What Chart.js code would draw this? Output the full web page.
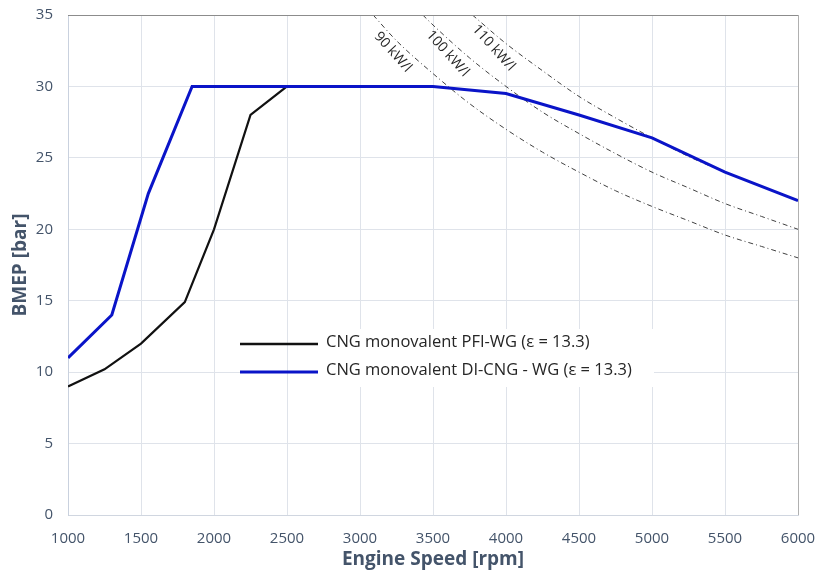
<!DOCTYPE html>
<html>
<head>
<meta charset="utf-8">
<script src="https://cdn.jsdelivr.net/npm/chart.js@4"></script>
<style>
  html,body{margin:0;padding:0;background:#fff;}
  #wrap{width:819px;height:578px;}
</style>
</head>
<body>
<div id="wrap"><canvas id="chart" width="819" height="578"></canvas></div>
<script>
/* ================= Data ================= */
const pfiSpeed = [1000, 1250, 1500, 1800, 2000, 2250, 2500, 3500];
const pfiBmep  = [9, 10.2, 12, 14.9, 20, 28, 30, 30];

const diSpeed = [1000, 1300, 1550, 1850, 3500, 4000, 4500, 5000, 5500, 6000];
const diBmep  = [11, 14, 22.5, 30, 30, 29.5, 28, 26.4, 24, 22];

// constant specific power lines
const p90Speed  = [3090, 3250, 3500, 3750, 4000, 4250, 4500, 4750, 5000, 5250, 5500, 5750, 6000];
const p90Bmep   = [35, 33.2, 30.9, 28.8, 27, 25.4, 24, 22.7, 21.6, 20.6, 19.6, 18.8, 18];
const p100Speed = [3430, 3500, 3750, 4000, 4250, 4500, 4750, 5000, 5250, 5500, 5750, 6000];
const p100Bmep  = [35, 34.3, 32, 30, 28.2, 26.7, 25.3, 24, 22.9, 21.8, 20.9, 20];
const p110Speed = [3770, 4000, 4250, 4500, 4750, 5000, 5250, 5500, 5750, 6000];
const p110Bmep  = [35, 33, 31.1, 29.3, 27.8, 26.4, 25.1, 24, 23, 22];

const powerLabels = [
  {text: '90 kW/l',  x: 3225, y: 32.4},
  {text: '100 kW/l', x: 3600, y: 32.3},
  {text: '110 kW/l', x: 3915, y: 32.7}
];

const legendNames = ['CNG monovalent PFI-WG (ε = 13.3)', 'CNG monovalent DI-CNG - WG (ε = 13.3)'];

const pts = (xs, ys) => xs.map((x, i) => ({x: x, y: ys[i]}));

/* ================= Plugins ================= */
const frame = {
  id: 'frame',
  afterDatasetsDraw(c) {
    const a = c.chartArea, g = c.ctx;
    g.save();
    g.lineWidth = 1;
    g.strokeStyle = '#8c8c8c';
    g.beginPath(); g.moveTo(a.left, a.top + 0.5); g.lineTo(a.right, a.top + 0.5); g.stroke();
    g.strokeStyle = '#b0b0b0';
    g.beginPath(); g.moveTo(a.right + 0.5, a.top); g.lineTo(a.right + 0.5, a.bottom); g.stroke();

    // power line labels
    const xs = c.scales.x, ys = c.scales.y;
    g.fillStyle = '#262626';
    g.font = '14px "Open Sans", sans-serif';
    g.textAlign = 'center';
    g.textBaseline = 'middle';
    powerLabels.forEach(l => {
      g.save();
      g.translate(xs.getPixelForValue(l.x), ys.getPixelForValue(l.y));
      g.rotate(48 * Math.PI / 180);
      g.fillText(l.text, 0, 0);
      g.restore();
    });

    // legend box
    g.fillStyle = '#fff';
    g.fillRect(298, 329, 356, 58);
    const ds = [c.data.datasets[0], c.data.datasets[1]];
    g.font = '16.5px "Open Sans", sans-serif';
    g.textAlign = 'left';
    ds.forEach((d, i) => {
      const yy = 344 + i * 28;
      g.strokeStyle = d.borderColor;
      g.lineWidth = i === 0 ? 2.5 : 3;
      g.beginPath(); g.moveTo(240, yy); g.lineTo(318, yy); g.stroke();
      g.fillStyle = '#262626';
      g.fillText(legendNames[i], 326, yy - 2);
    });
    g.restore();
  }
};

/* ================= Chart ================= */
const dashed = {
  borderColor: '#404040',
  borderWidth: 1,
  borderDash: [5, 3, 1, 3],
  pointRadius: 0,
  cubicInterpolationMode: 'monotone',
  fill: false
};

const tickFont = {family: '"Open Sans", sans-serif', size: 15};
const titleFont = {family: '"Open Sans", sans-serif', size: 19, weight: 'bold'};

new Chart(document.getElementById('chart'), {
  type: 'line',
  data: {
    datasets: [
      {label: 'PFI', data: pts(pfiSpeed, pfiBmep), borderColor: '#111111', borderWidth: 2.2, pointRadius: 0, order: 2},
      {label: 'DI', data: pts(diSpeed, diBmep), borderColor: '#0a14c8', borderWidth: 3, pointRadius: 0, order: 1},
      Object.assign({label: '90', data: pts(p90Speed, p90Bmep), order: 3}, dashed),
      Object.assign({label: '100', data: pts(p100Speed, p100Bmep), order: 3}, dashed),
      Object.assign({label: '110', data: pts(p110Speed, p110Bmep), order: 3}, dashed)
    ]
  },
  options: {
    responsive: false,
    animation: false,
    layout: {padding: {top: 15, right: 21, left: 9, bottom: 4}},
    plugins: {legend: {display: false}, tooltip: {enabled: false}},
    scales: {
      x: {
        type: 'linear', min: 1000, max: 6000,
        ticks: {stepSize: 500, color: '#44546a', font: tickFont, padding: 15, maxRotation: 0, callback: v => String(v)},
        grid: {color: '#dfe3ea', tickLength: 0},
        border: {color: '#d0d6e0'},
        title: {display: true, text: 'Engine Speed [rpm]', color: '#44546a', font: titleFont, padding: {top: 4, bottom: 3}},
        afterFit: s => { s.height = 59; s.paddingLeft = 0; s.paddingRight = 0; }
      },
      y: {
        min: 0, max: 35,
        ticks: {stepSize: 5, color: '#44546a', font: tickFont, padding: 15},
        grid: {color: '#dfe3ea', tickLength: 0},
        border: {color: '#c9d1de'},
        title: {display: true, text: 'BMEP [bar]', color: '#44546a', font: titleFont, padding: {top: 0, bottom: 0}},
        afterFit: s => { s.width = 59; s.paddingTop = 0; s.paddingBottom = 0; }
      }
    }
  },
  plugins: [frame]
});
</script>
</body>
</html>
